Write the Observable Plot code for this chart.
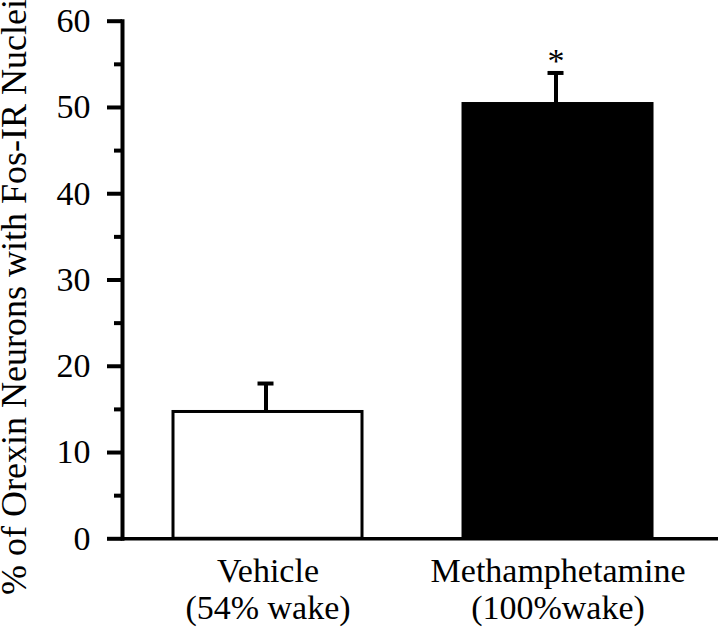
<!DOCTYPE html>
<html><head><meta charset="utf-8">
<script src="https://cdn.jsdelivr.net/npm/d3@7"></script>
<script src="https://cdn.jsdelivr.net/npm/@observablehq/plot@0.6"></script>
<style>html,body{margin:0;padding:0;background:#fff} svg{display:block}</style>
</head><body><div id="chart"></div>
<script>
const categories = ["Vehicle\n(54% wake)", "Methamphetamine\n(100%wake)"];
const means = [14.7, 50.4];
const sems = [3.3, 3.6];
const significance = ["", "*"];
const barFills = ["white", "black"];
const yTicks = [0, 10, 20, 30, 40, 50, 60];
const yMinorTicks = [5, 15, 25, 35, 45, 55];
const yLabel = "% of Orexin Neurons with Fos-IR Nuclei";

const data = categories.map((c, i) => ({
  cat: c, mean: means[i], top: means[i] + sems[i], sig: significance[i], fill: barFills[i]
}));

const font = "'Liberation Serif','Times New Roman',Times,serif";

const chart = Plot.plot({
  width: 720,
  height: 631,
  marginLeft: 122,
  marginRight: 2,
  marginTop: 20.7,
  marginBottom: 92.7,
  style: {fontFamily: font, fontSize: "34px", background: "white", color: "black", overflow: "hidden"},
  x: {domain: categories, paddingInner: 0.3483, paddingOuter: 0.2017, align: 0.436, round: false, label: null},
  y: {domain: [0, 60], label: null},
  color: {type: "identity"},
  marks: [
    Plot.barY(data, {x: "cat", y: "mean", fill: "fill", stroke: "black", strokeWidth: 3}),
    Plot.ruleX(data, {x: "cat", y1: "mean", y2: "top", strokeWidth: 4, dx: -2}),
    Plot.tickY(data, {x: "cat", y: "top", strokeWidth: 4, insetLeft: 86.5, insetRight: 86.5, dx: -2}),
    Plot.text(data, {x: "cat", y: "top", text: "sig", lineAnchor: "bottom", fontSize: 34, dy: -1, dx: -2}),
    Plot.ruleY([0], {strokeWidth: 3.5}),
    Plot.frame({anchor: "left", strokeWidth: 4}),
    Plot.axisY({ticks: yTicks, tickSize: 15, tickPadding: 17, strokeWidth: 4, fontSize: 34, label: null}),
    Plot.axisY({ticks: yMinorTicks, tickSize: 8, strokeWidth: 4, tickFormat: () => "", label: null}),
    Plot.axisX({tickSize: 0, tickPadding: 17, fontSize: 34, lineHeight: 1.08, label: null}),
    Plot.text([yLabel], {frameAnchor: "left", text: d => d, rotate: -90, textAnchor: "middle", dx: -97, dy: 17, fontSize: 36, lineAnchor: "bottom"})
  ]
});
document.getElementById("chart").appendChild(chart);
</script>
</body></html>
